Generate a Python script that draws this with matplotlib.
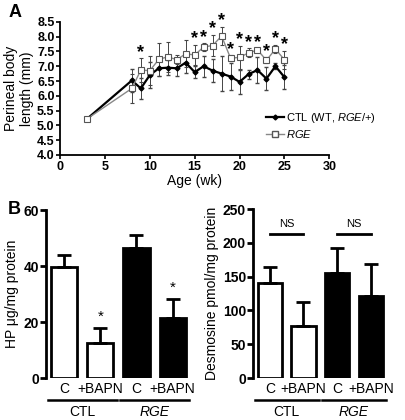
import numpy as np
import matplotlib.pyplot as plt
from matplotlib.lines import Line2D

plt.rcParams['font.family'] = ['Liberation Sans', 'DejaVu Sans']
plt.rcParams['mathtext.fontset'] = 'custom'
plt.rcParams['mathtext.it'] = 'Liberation Sans:italic'
plt.rcParams['mathtext.rm'] = 'Liberation Sans'

# Panel A data
edad = [3, 8, 9, 10, 11, 12, 13, 14, 15, 16, 17, 18, 19, 20, 21, 22, 23, 24, 25]
ctl = [5.22, 6.52, 6.25, 6.70, 6.93, 6.95, 6.93, 7.12, 6.80, 7.00, 6.85, 6.75, 6.65, 6.47, 6.73, 6.87, 6.58, 7.00, 6.63]
ctl_err = [0.0, 0.40, 0.35, 0.45, 0.25, 0.25, 0.25, 0.35, 0.20, 0.35, 0.40, 0.60, 0.45, 0.40, 0.15, 0.45, 0.40, 0.10, 0.40]
rge = [5.22, 6.25, 6.87, 6.85, 7.23, 7.32, 7.22, 7.42, 7.38, 7.65, 7.70, 8.02, 7.27, 7.30, 7.45, 7.55, 7.20, 7.58, 7.22]
rge_err = [0.0, 0.50, 0.40, 0.50, 0.55, 0.50, 0.15, 0.45, 0.35, 0.12, 0.35, 0.30, 0.10, 0.40, 0.15, 0.05, 0.10, 0.15, 0.30]
edad_sig = [9, 15, 16, 17, 18, 19, 20, 21, 22, 23, 24, 25]

# Panel B data
grupos = ['CTL', 'RGE']
trat = ['C', '+BAPN', 'C', '+BAPN']
hp = [39.5, 12.5, 46.5, 21.3]
hp_err = [4.5, 5.5, 4.5, 6.8]
hp_sig = [1, 3]
des = [140, 77, 155, 121]
des_err = [25, 36, 38, 48]
colores = ['white', 'white', 'black', 'black']

fig = plt.figure(figsize=(4.06, 4.2), dpi=100)

# ---- Panel A ----
ax = fig.add_axes([0.148, 0.631, 0.663, 0.317])
ax.errorbar(edad, ctl, yerr=ctl_err, color='black', lw=1.6, marker='D', ms=2.5,
            ecolor='#444444', elinewidth=0.7, capsize=1.2)
ax.errorbar(edad, rge, yerr=rge_err, color='#888888', lw=1.0, marker='s', ms=4,
            mfc='white', mec='#555555', mew=0.8, ecolor='#444444', elinewidth=0.7,
            capsize=1.2)
for x in edad_sig:
    i = edad.index(x)
    y = max(ctl[i] + ctl_err[i], rge[i] + rge_err[i])
    ax.text(x, y - 0.08, '*', ha='center', va='bottom', fontsize=13, fontweight='bold')
ax.set_xlim(0, 30)
ax.set_ylim(4.0, 8.5)
ax.set_xticks([0, 5, 10, 15, 20, 25, 30])
ax.set_yticks(np.arange(4.0, 8.51, 0.5))
ax.set_yticklabels([f'{v:.1f}' for v in np.arange(4.0, 8.51, 0.5)])
for lab in ax.get_xticklabels() + ax.get_yticklabels():
    lab.set_fontweight('bold')
ax.tick_params(labelsize=9, width=1.2, length=3, pad=1)
ax.spines['top'].set_visible(False)
ax.spines['right'].set_visible(False)
ax.spines['left'].set_linewidth(1.3)
ax.spines['bottom'].set_linewidth(1.3)
ax.set_xlabel('Age (wk)', fontsize=10, labelpad=1)
ax.set_ylabel('Perineal body\nlength (mm)', fontsize=10, labelpad=2)
h = [Line2D([], [], color='black', lw=1.6, marker='D', ms=2.5),
     Line2D([], [], color='#888888', lw=1.0, marker='s', ms=4, mfc='white', mec='#555555')]
ax.legend(h, ['CTL (WT, $RGE$/+)', '$RGE$'], frameon=False, fontsize=8,
          loc='center left', bbox_to_anchor=(0.75, 0.22), handlelength=1.6,
          handletextpad=0.2, labelspacing=0.3, borderaxespad=0)
fig.text(0.02, 0.96, 'A', fontsize=13, fontweight='bold')
fig.text(0.02, 0.49, 'B', fontsize=13, fontweight='bold')


def panel_barras(rect, vals, errs, ymax, paso, ylabel):
    axb = fig.add_axes(rect)
    pos = np.arange(4)
    axb.bar(pos, vals, width=0.72, color=colores, edgecolor='black', linewidth=2)
    axb.errorbar(pos, vals, yerr=[np.zeros(4), errs], fmt='none', ecolor='black',
                 elinewidth=2, capsize=5, capthick=2)
    axb.set_xlim(-0.5, 3.5)
    axb.set_ylim(0, ymax)
    axb.set_yticks(np.arange(0, ymax + 1, paso))
    axb.set_xticks(pos)
    axb.set_xticklabels(trat, fontsize=10)
    for lab in axb.get_yticklabels():
        lab.set_fontweight('bold')
    axb.tick_params(axis='y', labelsize=10, width=2, length=4, pad=1)
    axb.tick_params(axis='x', length=0, pad=3)
    axb.spines['top'].set_visible(False)
    axb.spines['right'].set_visible(False)
    axb.spines['bottom'].set_visible(False)
    axb.spines['left'].set_linewidth(2)
    axb.set_ylabel(ylabel, fontsize=10, labelpad=3)
    # lineas de grupo
    for g, (a, b) in enumerate([(0, 1), (2, 3)]):
        axb.plot([a - 0.45, b + 0.45], [-0.13 * ymax, -0.13 * ymax], color='black',
                 lw=1.8, clip_on=False)
        axb.text((a + b) / 2, -0.16 * ymax, grupos[g], ha='center', va='top', fontsize=10,
                 style='italic' if g == 1 else 'normal')
    return axb


axl = panel_barras([0.113, 0.1, 0.357, 0.4], hp, hp_err, 60, 20, 'HP μg/mg protein')
for i in hp_sig:
    axl.text(i, hp[i] + hp_err[i] + 1.5, '*', ha='center', va='bottom', fontsize=11)

axr = panel_barras([0.623, 0.1, 0.332, 0.402], des, des_err, 250, 50, 'Desmosine pmol/mg protein')
for a, b in [(0, 1), (2, 3)]:
    axr.plot([a, b], [213, 213], color='black', lw=2)
    axr.text((a + b) / 2, 220, 'NS', ha='center', va='bottom', fontsize=8)

plt.savefig('out.png', dpi=100)
